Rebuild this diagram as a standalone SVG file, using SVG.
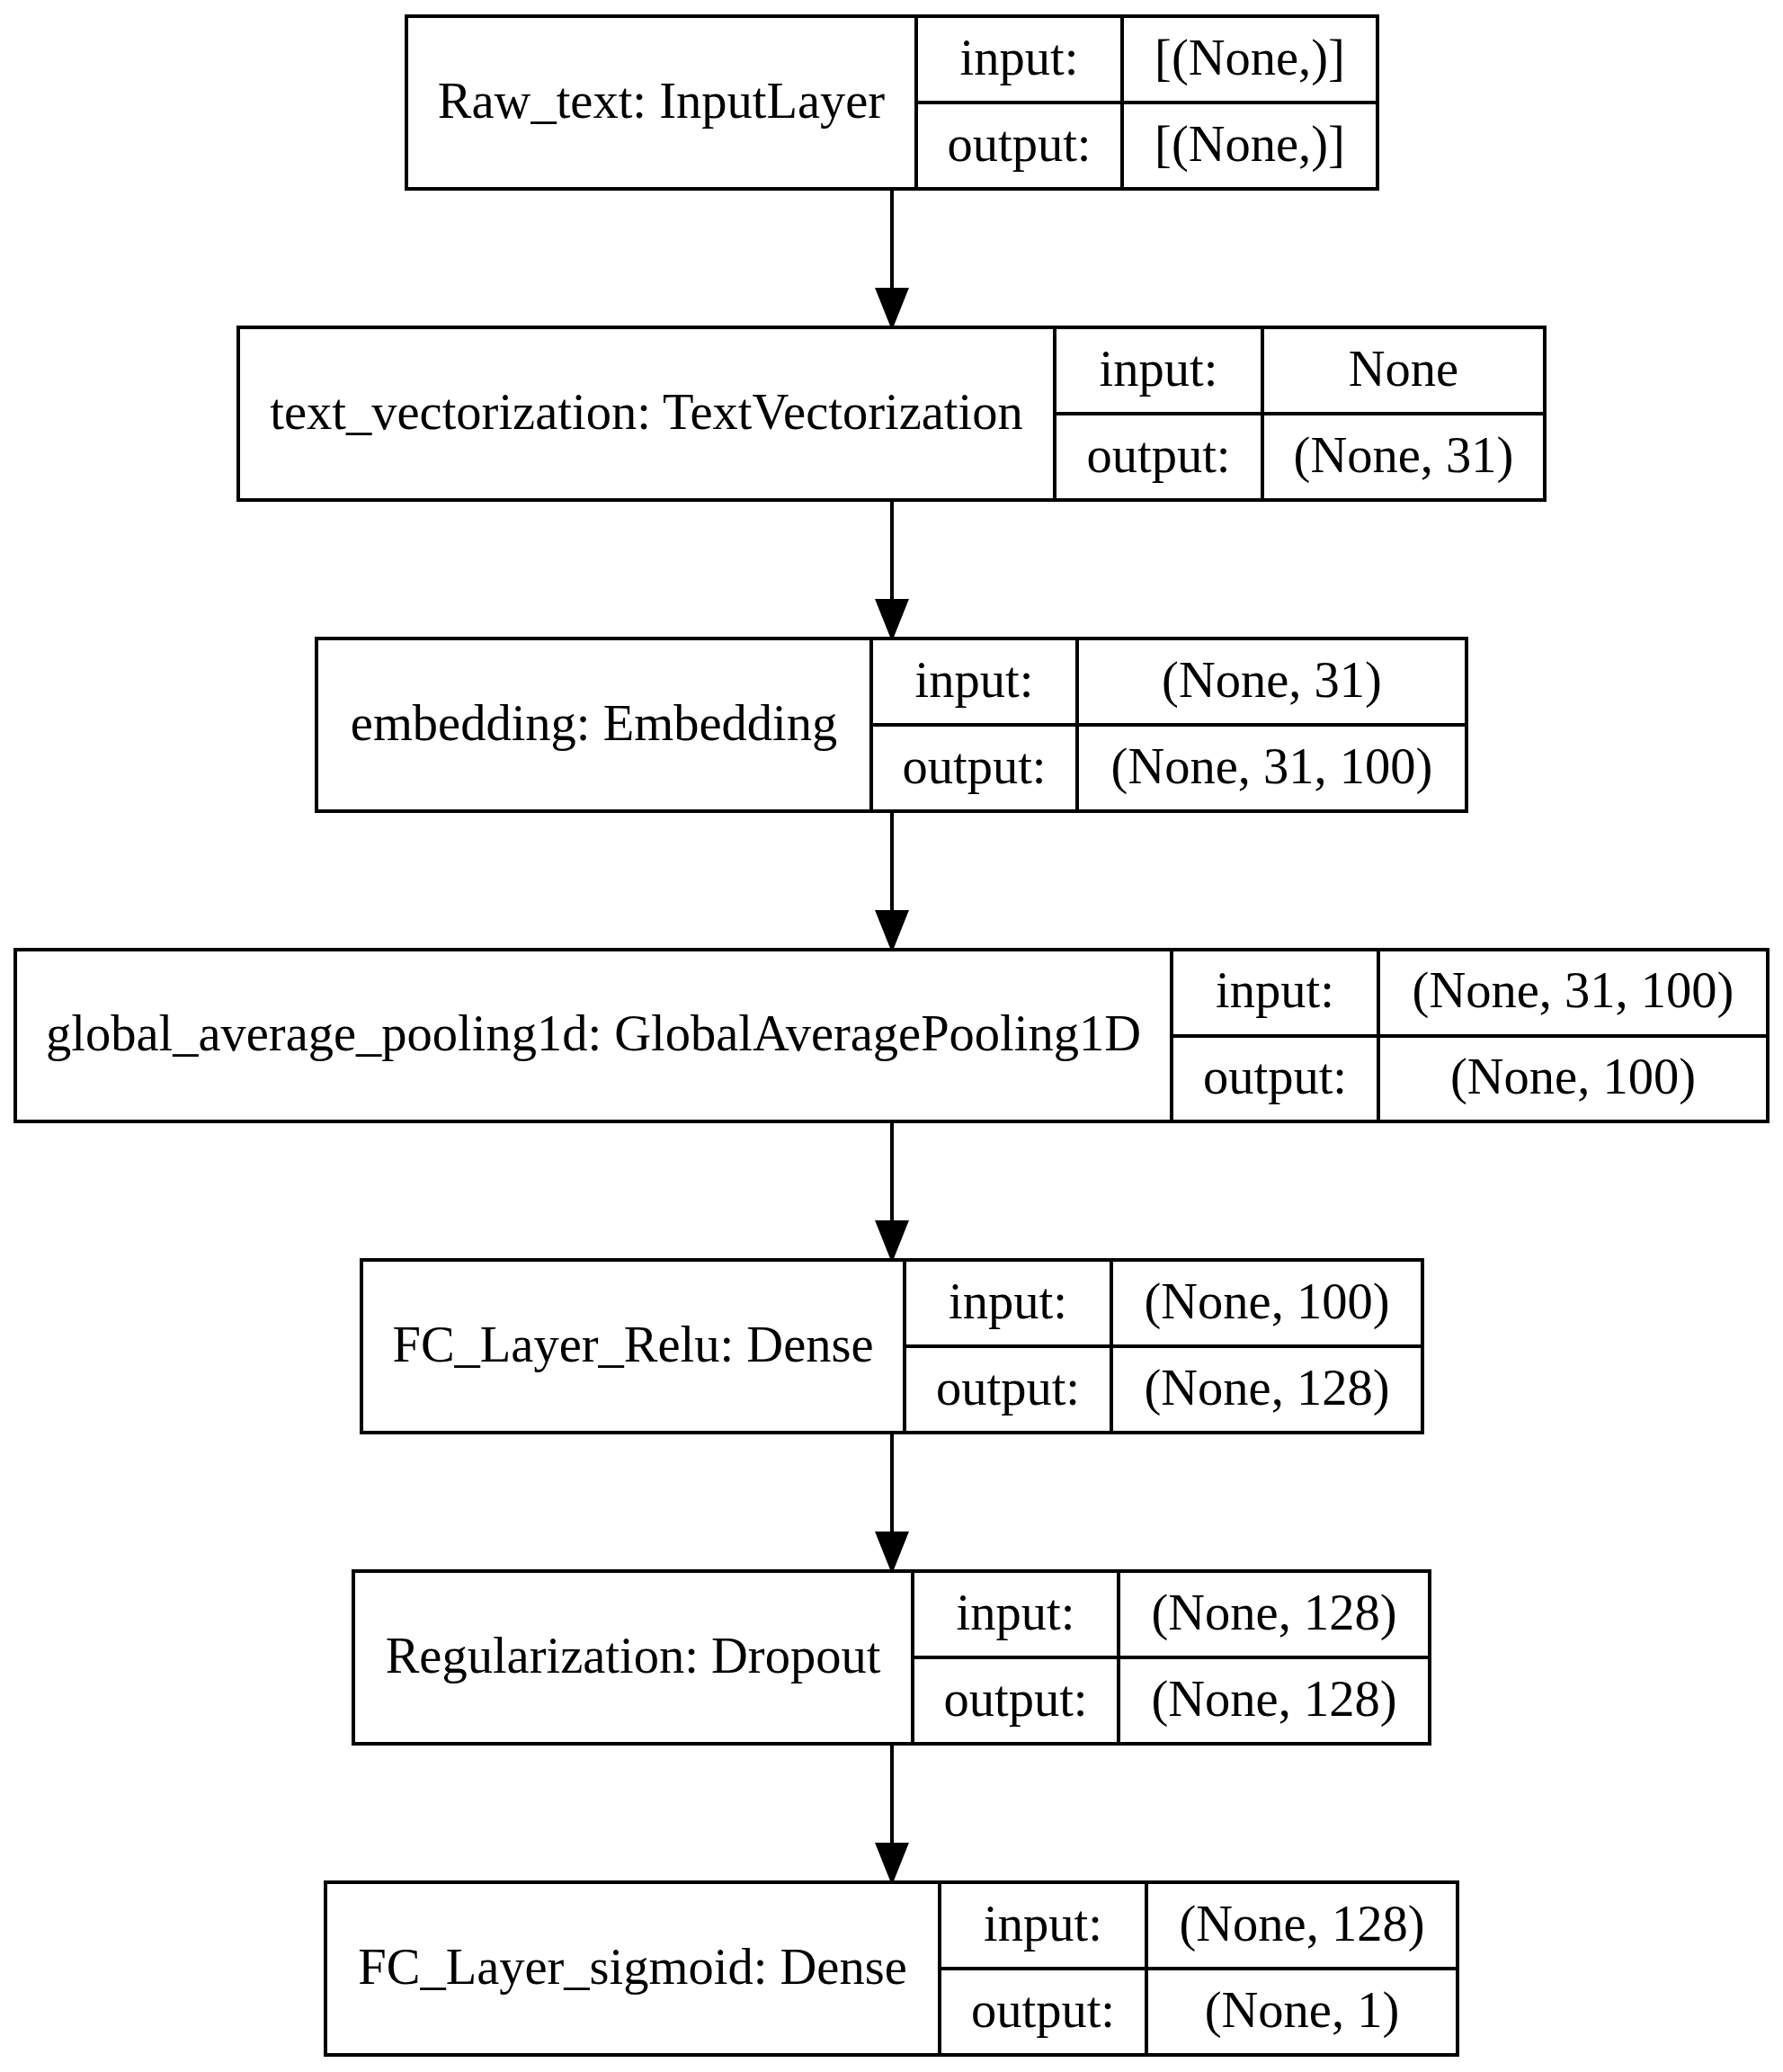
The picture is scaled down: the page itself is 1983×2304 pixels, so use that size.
<svg xmlns="http://www.w3.org/2000/svg" width="1983" height="2304" viewBox="0 0 1983 2304">
  <style>
    .box { fill: #ffffff; stroke: #000000; stroke-width: 4; }
    .sep { stroke: #000000; stroke-width: 4; fill: none; }
    .edge { stroke: #000000; stroke-width: 4; fill: none; }
    .head { fill: #000000; stroke: #000000; stroke-width: 4; }
    text { font-family: "Liberation Serif", "Times New Roman", serif; font-size: 56.5px; fill: #000000; text-anchor: middle; }
  </style>
  <rect width="1983" height="2304" fill="#ffffff"/>

  <!-- connectors between layers -->
  <g id="edges">
    <line class="edge" x1="992" y1="210" x2="992" y2="322"/>
    <polygon class="head" points="976,322 1008,322 992,362"/>
    <line class="edge" x1="992" y1="556" x2="992" y2="668"/>
    <polygon class="head" points="976,668 1008,668 992,708"/>
    <line class="edge" x1="992" y1="902" x2="992" y2="1014"/>
    <polygon class="head" points="976,1014 1008,1014 992,1054"/>
    <line class="edge" x1="992" y1="1247" x2="992" y2="1359"/>
    <polygon class="head" points="976,1359 1008,1359 992,1399"/>
    <line class="edge" x1="992" y1="1593" x2="992" y2="1705"/>
    <polygon class="head" points="976,1705 1008,1705 992,1745"/>
    <line class="edge" x1="992" y1="1939" x2="992" y2="2051"/>
    <polygon class="head" points="976,2051 1008,2051 992,2091"/>
  </g>

  <!-- Raw_text -->
  <g id="raw_text">
    <rect class="box" x="452" y="18" width="1080" height="192"/>
    <line class="sep" x1="1019" y1="18" x2="1019" y2="210"/>
    <line class="sep" x1="1248" y1="18" x2="1248" y2="210"/>
    <line class="sep" x1="1019" y1="114" x2="1532" y2="114"/>
    <text x="735.5" y="131">Raw_text: InputLayer</text>
    <text x="1133.5" y="83">input:</text>
    <text x="1133.5" y="179">output:</text>
    <text x="1390" y="83">[(None,)]</text>
    <text x="1390" y="179">[(None,)]</text>
  </g>

  <!-- text_vectorization -->
  <g id="text_vectorization">
    <rect class="box" x="265" y="364" width="1453" height="192"/>
    <line class="sep" x1="1173" y1="364" x2="1173" y2="556"/>
    <line class="sep" x1="1404" y1="364" x2="1404" y2="556"/>
    <line class="sep" x1="1173" y1="460" x2="1718" y2="460"/>
    <text x="719" y="477">text_vectorization: TextVectorization</text>
    <text x="1288.5" y="429">input:</text>
    <text x="1288.5" y="525">output:</text>
    <text x="1561" y="429">None</text>
    <text x="1561" y="525">(None, 31)</text>
  </g>

  <!-- embedding -->
  <g id="embedding">
    <rect class="box" x="352" y="710" width="1279" height="192"/>
    <line class="sep" x1="969" y1="710" x2="969" y2="902"/>
    <line class="sep" x1="1198" y1="710" x2="1198" y2="902"/>
    <line class="sep" x1="969" y1="806" x2="1631" y2="806"/>
    <text x="660.5" y="823">embedding: Embedding</text>
    <text x="1083.5" y="775">input:</text>
    <text x="1083.5" y="871">output:</text>
    <text x="1414.5" y="775">(None, 31)</text>
    <text x="1414.5" y="871">(None, 31, 100)</text>
  </g>

  <!-- global_average_pooling1d -->
  <g id="global_average_pooling1d">
    <rect class="box" x="17" y="1056" width="1949" height="191"/>
    <line class="sep" x1="1303" y1="1056" x2="1303" y2="1247"/>
    <line class="sep" x1="1533" y1="1056" x2="1533" y2="1247"/>
    <line class="sep" x1="1303" y1="1152" x2="1966" y2="1152"/>
    <text x="660" y="1168">global_average_pooling1d: GlobalAveragePooling1D</text>
    <text x="1418" y="1120">input:</text>
    <text x="1418" y="1216">output:</text>
    <text x="1749.5" y="1120">(None, 31, 100)</text>
    <text x="1749.5" y="1216">(None, 100)</text>
  </g>

  <!-- FC_Layer_Relu -->
  <g id="fc_layer_relu">
    <rect class="box" x="402" y="1401" width="1180" height="192"/>
    <line class="sep" x1="1006" y1="1401" x2="1006" y2="1593"/>
    <line class="sep" x1="1236" y1="1401" x2="1236" y2="1593"/>
    <line class="sep" x1="1006" y1="1497" x2="1582" y2="1497"/>
    <text x="704" y="1514">FC_Layer_Relu: Dense</text>
    <text x="1121" y="1466">input:</text>
    <text x="1121" y="1562">output:</text>
    <text x="1409" y="1466">(None, 100)</text>
    <text x="1409" y="1562">(None, 128)</text>
  </g>

  <!-- Regularization -->
  <g id="regularization">
    <rect class="box" x="393" y="1747" width="1197" height="192"/>
    <line class="sep" x1="1015" y1="1747" x2="1015" y2="1939"/>
    <line class="sep" x1="1244" y1="1747" x2="1244" y2="1939"/>
    <line class="sep" x1="1015" y1="1843" x2="1590" y2="1843"/>
    <text x="704" y="1860">Regularization: Dropout</text>
    <text x="1129.5" y="1812">input:</text>
    <text x="1129.5" y="1908">output:</text>
    <text x="1417" y="1812">(None, 128)</text>
    <text x="1417" y="1908">(None, 128)</text>
  </g>

  <!-- FC_Layer_sigmoid -->
  <g id="fc_layer_sigmoid">
    <rect class="box" x="362" y="2093" width="1259" height="192"/>
    <line class="sep" x1="1045" y1="2093" x2="1045" y2="2285"/>
    <line class="sep" x1="1275" y1="2093" x2="1275" y2="2285"/>
    <line class="sep" x1="1045" y1="2189" x2="1621" y2="2189"/>
    <text x="703.5" y="2206">FC_Layer_sigmoid: Dense</text>
    <text x="1160" y="2158">input:</text>
    <text x="1160" y="2254">output:</text>
    <text x="1448" y="2158">(None, 128)</text>
    <text x="1448" y="2254">(None, 1)</text>
  </g>
</svg>
